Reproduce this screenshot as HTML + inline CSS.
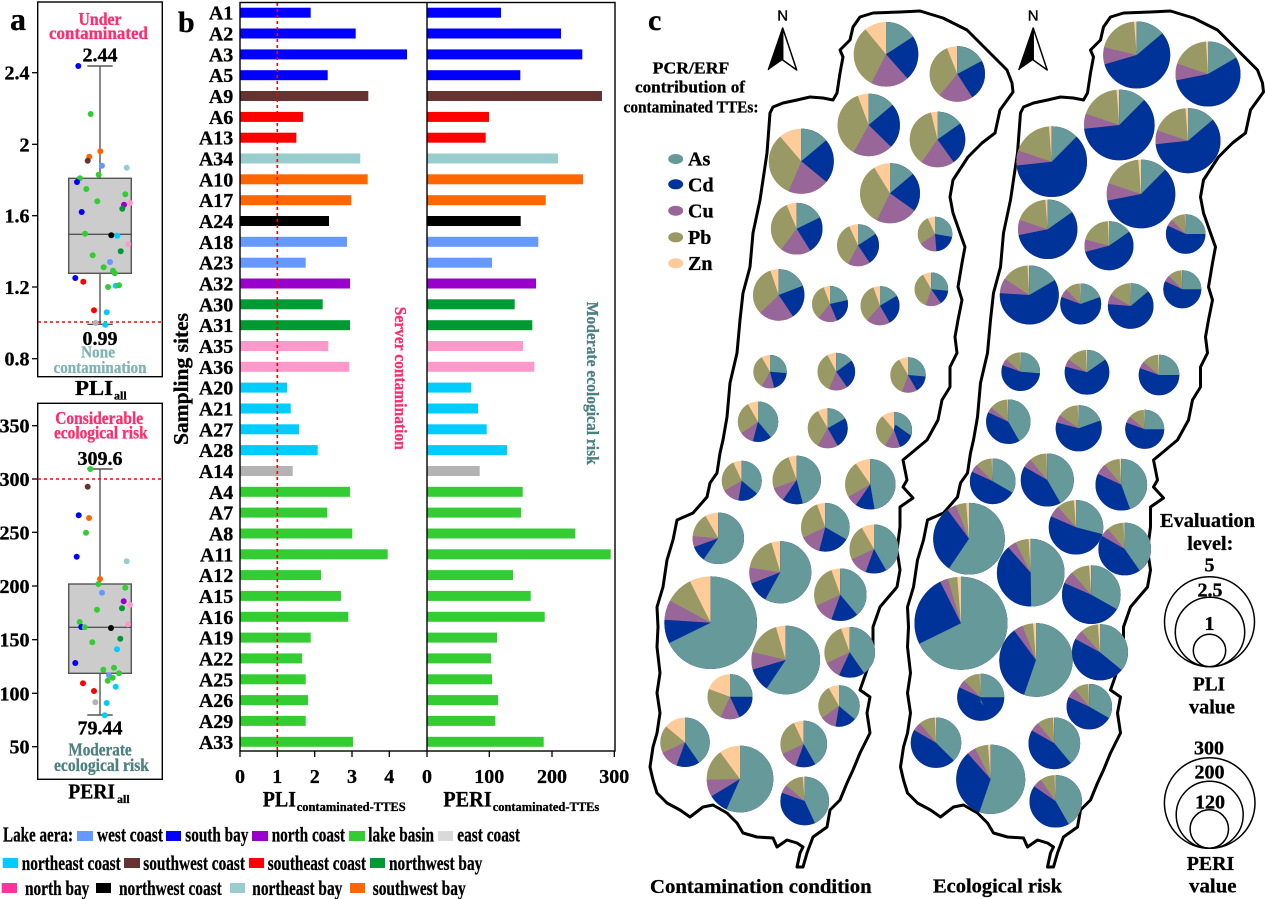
<!DOCTYPE html>
<html><head><meta charset="utf-8"><style>
body{margin:0;background:#fff}
svg{display:block}
text{font-family:"Liberation Serif","Times New Roman",serif;font-weight:bold;fill:#000;stroke:#000;stroke-width:0.3}
.sa,.sd,.su,.sb{fill:none}
.sa{stroke:#669999}.sd{stroke:#003399}.su{stroke:#996699}.sb{stroke:#999966}.z{fill:#ffcc99}
.B{fill:#0000ff}.G{fill:#33cc33}.O{fill:#ff6600}.Br{fill:#663333}.W{fill:#6699ff}.N{fill:#99cccc}.P{fill:#9900cc}.K{fill:#000}.C{fill:#00ccff}.Pk{fill:#ff99cc}.D{fill:#009933}.R{fill:#ff0000}.Y{fill:#b3b3b3}
.pk{fill:#ff2d6e;stroke:#ff2d6e}.tl{fill:#80b3b3;stroke:#80b3b3}.dt{fill:#4d8080;stroke:#4d8080}
</style></head><body>
<svg width="1265" height="899" viewBox="0 0 1265 899" xmlns="http://www.w3.org/2000/svg">
<rect width="1265" height="899" fill="#fff"/>

<!-- ============ PANEL A ============ -->
<text x="10" y="30" font-size="32">a</text>
<rect x="37.7" y="2" width="124.6" height="374.7" fill="none" stroke="#000" stroke-width="1.4"/>
<g stroke="#000" stroke-width="1.3">
<line x1="32" y1="72.7" x2="37.7" y2="72.7"/><line x1="32" y1="144.3" x2="37.7" y2="144.3"/><line x1="32" y1="215.7" x2="37.7" y2="215.7"/><line x1="32" y1="287" x2="37.7" y2="287"/><line x1="32" y1="358.7" x2="37.7" y2="358.7"/>
</g>
<g font-size="20" text-anchor="end">
<text x="29.5" y="79.7">2.4</text><text x="29.5" y="151.3">2</text><text x="29.5" y="222.7">1.6</text><text x="29.5" y="294">1.2</text><text x="29.5" y="365.7">0.8</text>
</g>
<g stroke="#555" stroke-width="1.4">
<line x1="100" y1="66" x2="100" y2="178.3"/><line x1="100" y1="273.3" x2="100" y2="324.3"/>
<line x1="87.3" y1="66" x2="112.7" y2="66"/><line x1="87.3" y1="324.3" x2="112.7" y2="324.3"/>
<rect x="68.7" y="178.3" width="62.6" height="95" fill="#cccccc"/>
<line x1="68.7" y1="234.3" x2="131.3" y2="234.3"/>
</g>
<line x1="38" y1="322" x2="162" y2="322" stroke="#ff0000" stroke-width="1.6" stroke-dasharray="3 3"/>
<g>
<circle cx="78.3" cy="66" r="3" class="B"/><circle cx="90.7" cy="114" r="3" class="G"/><circle cx="100.3" cy="151.3" r="3" class="O"/><circle cx="89.3" cy="156.7" r="3" class="O"/><circle cx="87.7" cy="160.7" r="3" class="Br"/><circle cx="102" cy="165.7" r="3" class="W"/><circle cx="126.7" cy="167.7" r="3" class="N"/><circle cx="98.7" cy="174.7" r="3" class="G"/><circle cx="80" cy="178.3" r="3" class="G"/><circle cx="77" cy="182" r="3" class="B"/><circle cx="86.3" cy="189" r="3" class="G"/><circle cx="125.3" cy="194.3" r="3" class="G"/><circle cx="97.3" cy="201.3" r="3" class="G"/><circle cx="124" cy="204.7" r="3" class="P"/><circle cx="130" cy="203" r="3" class="Pk"/><circle cx="122.3" cy="208.7" r="3" class="D"/><circle cx="81.7" cy="212" r="3" class="B"/><circle cx="85" cy="233.7" r="3" class="G"/><circle cx="111.3" cy="235.3" r="3" class="K"/><circle cx="117.3" cy="235.7" r="3" class="C"/><circle cx="128.3" cy="244.3" r="3" class="Pk"/><circle cx="120.7" cy="251.3" r="3" class="D"/><circle cx="92.7" cy="255.3" r="3" class="G"/><circle cx="110" cy="262" r="3" class="W"/><circle cx="103.7" cy="267.3" r="3" class="G"/><circle cx="113" cy="270.7" r="3" class="G"/><circle cx="114.7" cy="273.3" r="3" class="G"/><circle cx="75.3" cy="278" r="3" class="B"/><circle cx="83.3" cy="281.7" r="3" class="R"/><circle cx="108" cy="287" r="3" class="G"/><circle cx="115.7" cy="285.7" r="3" class="C"/><circle cx="119" cy="285.3" r="3" class="G"/><circle cx="94" cy="310.3" r="3" class="R"/><circle cx="106.7" cy="312.3" r="3" class="C"/><circle cx="95.7" cy="323" r="3" class="Y"/><circle cx="105.3" cy="324.7" r="3" class="C"/>
</g>
<text x="100" y="25" font-size="18" text-anchor="middle" class="pk" textLength="43" lengthAdjust="spacingAndGlyphs">Under</text>
<text x="98.5" y="39" font-size="18" text-anchor="middle" class="pk" textLength="99" lengthAdjust="spacingAndGlyphs">contaminated</text>
<text x="100" y="61.7" font-size="20" text-anchor="middle">2.44</text>
<text x="100" y="345" font-size="20" text-anchor="middle">0.99</text>
<text x="98" y="357.5" font-size="17" text-anchor="middle" class="tl" textLength="34" lengthAdjust="spacingAndGlyphs">None</text>
<text x="100" y="373" font-size="17" text-anchor="middle" class="tl" textLength="93" lengthAdjust="spacingAndGlyphs">contamination</text>
<text x="75" y="395" font-size="21" textLength="38" lengthAdjust="spacingAndGlyphs">PLI</text>
<text x="114" y="399.5" font-size="12">all</text>

<!-- bottom a -->
<rect x="37.7" y="403.3" width="124.6" height="376" fill="none" stroke="#000" stroke-width="1.4"/>
<g stroke="#000" stroke-width="1.3">
<line x1="32" y1="425.7" x2="37.7" y2="425.7"/><line x1="32" y1="479" x2="37.7" y2="479"/><line x1="32" y1="532.3" x2="37.7" y2="532.3"/><line x1="32" y1="586" x2="37.7" y2="586"/><line x1="32" y1="639.7" x2="37.7" y2="639.7"/><line x1="32" y1="693.3" x2="37.7" y2="693.3"/><line x1="32" y1="746.7" x2="37.7" y2="746.7"/>
</g>
<g font-size="20" text-anchor="end">
<text x="29.5" y="432.7">350</text><text x="29.5" y="486">300</text><text x="29.5" y="539.3">250</text><text x="29.5" y="593">200</text><text x="29.5" y="646.7">150</text><text x="29.5" y="700.3">100</text><text x="29.5" y="753.7">50</text>
</g>
<g stroke="#555" stroke-width="1.4">
<line x1="100" y1="469" x2="100" y2="584"/><line x1="100" y1="673.3" x2="100" y2="715"/>
<line x1="87.3" y1="469" x2="112.7" y2="469"/><line x1="87.3" y1="715" x2="112.7" y2="715"/>
<rect x="68.7" y="584" width="62.6" height="89.3" fill="#cccccc"/>
<line x1="68.7" y1="627.3" x2="131.3" y2="627.3"/>
</g>
<line x1="38" y1="479" x2="162" y2="479" stroke="#ff0000" stroke-width="1.6" stroke-dasharray="3 3"/>
<g>
<circle cx="90.3" cy="469" r="3" class="G"/><circle cx="87.7" cy="486.7" r="3" class="Br"/><circle cx="78.7" cy="515.3" r="3" class="B"/><circle cx="89" cy="518" r="3" class="O"/><circle cx="86" cy="532.7" r="3" class="G"/><circle cx="76.7" cy="556.7" r="3" class="B"/><circle cx="126.7" cy="561.3" r="3" class="N"/><circle cx="100" cy="579" r="3" class="O"/><circle cx="98.3" cy="584" r="3" class="G"/><circle cx="125.3" cy="587.7" r="3" class="G"/><circle cx="102" cy="592.7" r="3" class="W"/><circle cx="123.7" cy="601.3" r="3" class="P"/><circle cx="130" cy="604.7" r="3" class="Pk"/><circle cx="122" cy="608.3" r="3" class="D"/><circle cx="97" cy="609.7" r="3" class="G"/><circle cx="79.7" cy="622" r="3" class="G"/><circle cx="81.3" cy="627" r="3" class="B"/><circle cx="84.7" cy="627.3" r="3" class="G"/><circle cx="111" cy="628" r="3" class="K"/><circle cx="128" cy="624.3" r="3" class="Pk"/><circle cx="120.3" cy="638.7" r="3" class="D"/><circle cx="117" cy="649.3" r="3" class="C"/><circle cx="92.3" cy="642.3" r="3" class="G"/><circle cx="75.3" cy="663" r="3" class="B"/><circle cx="103.3" cy="669.7" r="3" class="G"/><circle cx="114" cy="667.7" r="3" class="G"/><circle cx="119" cy="673.3" r="3" class="G"/><circle cx="109" cy="675.3" r="3" class="W"/><circle cx="112.7" cy="677.7" r="3" class="G"/><circle cx="107.7" cy="680.7" r="3" class="G"/><circle cx="83" cy="683.3" r="3" class="R"/><circle cx="115.7" cy="686.7" r="3" class="C"/><circle cx="94" cy="691" r="3" class="R"/><circle cx="95.3" cy="702.3" r="3" class="Y"/><circle cx="106.7" cy="703" r="3" class="C"/><circle cx="104.7" cy="715.3" r="3" class="C"/>
</g>
<text x="99.2" y="424" font-size="18" text-anchor="middle" class="pk" textLength="88" lengthAdjust="spacingAndGlyphs">Considerable</text>
<text x="100.8" y="438.5" font-size="18" text-anchor="middle" class="pk" textLength="93.7" lengthAdjust="spacingAndGlyphs">ecological risk</text>
<text x="100" y="465" font-size="20" text-anchor="middle">309.6</text>
<text x="100" y="734.3" font-size="20" text-anchor="middle">79.44</text>
<text x="100" y="755.6" font-size="18" text-anchor="middle" class="dt" textLength="63.3" lengthAdjust="spacingAndGlyphs">Moderate</text>
<text x="101.5" y="771" font-size="18" text-anchor="middle" class="dt" textLength="95" lengthAdjust="spacingAndGlyphs">ecological risk</text>
<text x="68.3" y="798.3" font-size="21" textLength="46.7" lengthAdjust="spacingAndGlyphs">PERI</text>
<text x="117" y="803" font-size="12">all</text>

<!-- ============ PANEL B ============ -->
<text x="178" y="32" font-size="30">b</text>
<g font-size="20" text-anchor="end">
<text x="233.3" y="19.7">A1</text><text x="233.3" y="40.5">A2</text><text x="233.3" y="61.4">A3</text><text x="233.3" y="82.2">A5</text><text x="233.3" y="103">A9</text><text x="233.3" y="123.9">A6</text><text x="233.3" y="144.7">A13</text><text x="233.3" y="165.5">A34</text><text x="233.3" y="186.3">A10</text><text x="233.3" y="207.2">A17</text><text x="233.3" y="228">A24</text><text x="233.3" y="248.8">A18</text><text x="233.3" y="269.7">A23</text><text x="233.3" y="290.5">A32</text><text x="233.3" y="311.3">A30</text><text x="233.3" y="332.2">A31</text><text x="233.3" y="353">A35</text><text x="233.3" y="373.8">A36</text><text x="233.3" y="394.6">A20</text><text x="233.3" y="415.5">A21</text><text x="233.3" y="436.3">A27</text><text x="233.3" y="457.1">A28</text><text x="233.3" y="478">A14</text><text x="233.3" y="498.8">A4</text><text x="233.3" y="519.6">A7</text><text x="233.3" y="540.5">A8</text><text x="233.3" y="561.3">A11</text><text x="233.3" y="582.1">A12</text><text x="233.3" y="602.9">A15</text><text x="233.3" y="623.8">A16</text><text x="233.3" y="644.6">A19</text><text x="233.3" y="665.4">A22</text><text x="233.3" y="686.3">A25</text><text x="233.3" y="707.1">A26</text><text x="233.3" y="727.9">A29</text><text x="233.3" y="748.8">A33</text>
</g>
<!-- PLI bars -->
<g>
<rect x="240" y="7.7" width="70.7" height="10" class="B"/>
<rect x="240" y="28.5" width="115.7" height="10" class="B"/>
<rect x="240" y="49.4" width="167" height="10" class="B"/>
<rect x="240" y="70.2" width="87.7" height="10" class="B"/>
<rect x="240" y="91" width="128.3" height="10" class="Br"/>
<rect x="240" y="111.9" width="63" height="10" class="R"/>
<rect x="240" y="132.7" width="56.3" height="10" class="R"/>
<rect x="240" y="153.5" width="120.3" height="10" class="N"/>
<rect x="240" y="174.3" width="127.7" height="10" class="O"/>
<rect x="240" y="195.2" width="111.3" height="10" class="O"/>
<rect x="240" y="216" width="89" height="10" class="K"/>
<rect x="240" y="236.8" width="107" height="10" class="W"/>
<rect x="240" y="257.7" width="65.7" height="10" class="W"/>
<rect x="240" y="278.5" width="110" height="10" class="P"/>
<rect x="240" y="299.3" width="82.7" height="10" class="D"/>
<rect x="240" y="320.2" width="110" height="10" class="D"/>
<rect x="240" y="341" width="88.3" height="10" class="Pk"/>
<rect x="240" y="361.8" width="109.3" height="10" class="Pk"/>
<rect x="240" y="382.6" width="47" height="10" class="C"/>
<rect x="240" y="403.5" width="50.7" height="10" class="C"/>
<rect x="240" y="424.3" width="59" height="10" class="C"/>
<rect x="240" y="445.1" width="77.7" height="10" class="C"/>
<rect x="240" y="466" width="52.7" height="10" class="Y"/>
<rect x="240" y="486.8" width="110" height="10" class="G"/>
<rect x="240" y="507.6" width="87.3" height="10" class="G"/>
<rect x="240" y="528.5" width="112.3" height="10" class="G"/>
<rect x="240" y="549.3" width="147.7" height="10" class="G"/>
<rect x="240" y="570.1" width="81" height="10" class="G"/>
<rect x="240" y="590.9" width="101" height="10" class="G"/>
<rect x="240" y="611.8" width="108.3" height="10" class="G"/>
<rect x="240" y="632.6" width="70.7" height="10" class="G"/>
<rect x="240" y="653.4" width="62" height="10" class="G"/>
<rect x="240" y="674.3" width="65.7" height="10" class="G"/>
<rect x="240" y="695.1" width="68" height="10" class="G"/>
<rect x="240" y="715.9" width="65.7" height="10" class="G"/>
<rect x="240" y="736.8" width="113" height="10" class="G"/>
</g>
<!-- PERI bars -->
<g>
<rect x="427" y="7.7" width="74" height="10" class="B"/>
<rect x="427" y="28.5" width="134" height="10" class="B"/>
<rect x="427" y="49.4" width="155.3" height="10" class="B"/>
<rect x="427" y="70.2" width="93.3" height="10" class="B"/>
<rect x="427" y="91" width="175" height="10" class="Br"/>
<rect x="427" y="111.9" width="62" height="10" class="R"/>
<rect x="427" y="132.7" width="58.7" height="10" class="R"/>
<rect x="427" y="153.5" width="131" height="10" class="N"/>
<rect x="427" y="174.3" width="156" height="10" class="O"/>
<rect x="427" y="195.2" width="118.7" height="10" class="O"/>
<rect x="427" y="216" width="93.7" height="10" class="K"/>
<rect x="427" y="236.8" width="111.3" height="10" class="W"/>
<rect x="427" y="257.7" width="65" height="10" class="W"/>
<rect x="427" y="278.5" width="109" height="10" class="P"/>
<rect x="427" y="299.3" width="87.7" height="10" class="D"/>
<rect x="427" y="320.2" width="105.3" height="10" class="D"/>
<rect x="427" y="341" width="96" height="10" class="Pk"/>
<rect x="427" y="361.8" width="107.3" height="10" class="Pk"/>
<rect x="427" y="382.6" width="44.3" height="10" class="C"/>
<rect x="427" y="403.5" width="51" height="10" class="C"/>
<rect x="427" y="424.3" width="59.7" height="10" class="C"/>
<rect x="427" y="445.1" width="80" height="10" class="C"/>
<rect x="427" y="466" width="52.7" height="10" class="Y"/>
<rect x="427" y="486.8" width="95.7" height="10" class="G"/>
<rect x="427" y="507.6" width="94" height="10" class="G"/>
<rect x="427" y="528.5" width="148.3" height="10" class="G"/>
<rect x="427" y="549.3" width="183.7" height="10" class="G"/>
<rect x="427" y="570.1" width="86" height="10" class="G"/>
<rect x="427" y="590.9" width="103.7" height="10" class="G"/>
<rect x="427" y="611.8" width="117.7" height="10" class="G"/>
<rect x="427" y="632.6" width="70" height="10" class="G"/>
<rect x="427" y="653.4" width="64" height="10" class="G"/>
<rect x="427" y="674.3" width="65" height="10" class="G"/>
<rect x="427" y="695.1" width="71" height="10" class="G"/>
<rect x="427" y="715.9" width="68.3" height="10" class="G"/>
<rect x="427" y="736.8" width="116.7" height="10" class="G"/>
</g>
<line x1="277.3" y1="3" x2="277.3" y2="751" stroke="#ff0000" stroke-width="1.6" stroke-dasharray="3 3"/>
<rect x="240" y="2.5" width="375" height="748.5" fill="none" stroke="#000" stroke-width="1.4"/>
<line x1="427" y1="2.5" x2="427" y2="751" stroke="#000" stroke-width="1.4"/>
<g stroke="#000" stroke-width="1.3">
<line x1="240" y1="751" x2="240" y2="757"/><line x1="277.3" y1="751" x2="277.3" y2="757"/><line x1="314.7" y1="751" x2="314.7" y2="757"/><line x1="352" y1="751" x2="352" y2="757"/><line x1="389.3" y1="751" x2="389.3" y2="757"/><line x1="427" y1="751" x2="427" y2="757"/><line x1="489.3" y1="751" x2="489.3" y2="757"/><line x1="552" y1="751" x2="552" y2="757"/><line x1="614.3" y1="751" x2="614.3" y2="757"/>
</g>
<g font-size="20" text-anchor="middle">
<text x="240" y="783">0</text><text x="277.3" y="783">1</text><text x="314.7" y="783">2</text><text x="352" y="783">3</text><text x="389.3" y="783">4</text>
<text x="427" y="783">0</text><text x="489.3" y="783">100</text><text x="552" y="783">200</text><text x="614.3" y="783">300</text>
</g>
<text x="262.7" y="806.7" font-size="22" textLength="33.3" lengthAdjust="spacingAndGlyphs">PLI</text>
<text x="296.7" y="811" font-size="13" textLength="109" lengthAdjust="spacingAndGlyphs">contaminated-TTES</text>
<text x="443.3" y="806.7" font-size="22" textLength="48.4" lengthAdjust="spacingAndGlyphs">PERI</text>
<text x="492.7" y="811" font-size="13" textLength="106.6" lengthAdjust="spacingAndGlyphs">contaminated-TTEs</text>
<text transform="translate(188,379) rotate(-90)" font-size="21" text-anchor="middle" textLength="132" lengthAdjust="spacingAndGlyphs">Sampling sites</text>
<text transform="translate(395,378.3) rotate(90)" font-size="17" text-anchor="middle" class="pk" textLength="143" lengthAdjust="spacingAndGlyphs">Server contamination</text>
<text transform="translate(587,383.3) rotate(90)" font-size="17" text-anchor="middle" class="dt" textLength="163" lengthAdjust="spacingAndGlyphs">Moderate ecological risk</text>

<!-- legend -->
<text x="3" y="841.5" font-size="21" textLength="70" lengthAdjust="spacingAndGlyphs">Lake aera:</text>
<rect x="77" y="831" width="16" height="10" class="W"/><text x="97" y="841.5" font-size="21" textLength="66" lengthAdjust="spacingAndGlyphs">west coast</text>
<rect x="166" y="831" width="15" height="10" class="B"/><text x="185.3" y="841.5" font-size="21" textLength="63" lengthAdjust="spacingAndGlyphs">south bay</text>
<rect x="252" y="831" width="16" height="10" class="P"/><text x="271.7" y="841.5" font-size="21" textLength="73.3" lengthAdjust="spacingAndGlyphs">north coast</text>
<rect x="349" y="831" width="16" height="10" class="G"/><text x="368.3" y="841.5" font-size="21" textLength="65.7" lengthAdjust="spacingAndGlyphs">lake basin</text>
<rect x="438" y="831" width="15" height="10" fill="#d9d9d9"/><text x="457.3" y="841.5" font-size="21" textLength="62.7" lengthAdjust="spacingAndGlyphs">east coast</text>

<rect x="2.7" y="858" width="15.3" height="10" class="C"/><text x="21.7" y="870" font-size="21" textLength="99" lengthAdjust="spacingAndGlyphs">northeast coast</text>
<rect x="124" y="858" width="16" height="10" class="Br"/><text x="143.3" y="870" font-size="21" textLength="101.7" lengthAdjust="spacingAndGlyphs">southwest coast</text>
<rect x="249" y="858" width="15" height="10" class="R"/><text x="267.7" y="870" font-size="21" textLength="98.3" lengthAdjust="spacingAndGlyphs">southeast coast</text>
<rect x="370" y="858" width="15" height="10" class="D"/><text x="389" y="870" font-size="21" textLength="93.3" lengthAdjust="spacingAndGlyphs">northwest bay</text>

<rect x="1.7" y="883" width="15.3" height="10" fill="#ff3399"/><text x="25" y="895" font-size="21" textLength="64.3" lengthAdjust="spacingAndGlyphs">north bay</text>
<rect x="96" y="883" width="15" height="10" class="K"/><text x="119" y="895" font-size="21" textLength="102.7" lengthAdjust="spacingAndGlyphs">northwest coast</text>
<rect x="230" y="883" width="15" height="10" class="N"/><text x="252.3" y="895" font-size="21" textLength="90" lengthAdjust="spacingAndGlyphs">northeast bay</text>
<rect x="350" y="883" width="15" height="10" class="O"/><text x="372.7" y="895" font-size="21" textLength="93" lengthAdjust="spacingAndGlyphs">southwest bay</text>

<!-- ============ PANEL C ============ -->
<text x="648" y="30" font-size="30">c</text>
<text x="691" y="73.5" font-size="17" text-anchor="middle" textLength="76.6" lengthAdjust="spacingAndGlyphs">PCR/ERF</text>
<text x="690" y="92.7" font-size="17" text-anchor="middle" textLength="110" lengthAdjust="spacingAndGlyphs">contribution of</text>
<text x="691" y="112.5" font-size="17" text-anchor="middle" textLength="135" lengthAdjust="spacingAndGlyphs">contaminated TTEs:</text>
<ellipse cx="675.7" cy="159" rx="7.5" ry="5" fill="#669999"/>
<ellipse cx="675.7" cy="184.3" rx="7.5" ry="5" fill="#003399"/>
<ellipse cx="675.7" cy="210.7" rx="7.5" ry="5" fill="#996699"/>
<ellipse cx="675.7" cy="237.3" rx="7.5" ry="5" fill="#999966"/>
<ellipse cx="675.7" cy="263.3" rx="7.5" ry="5" fill="#ffcc99"/>
<g font-size="20">
<text x="688" y="165.7">As</text><text x="688" y="191.7">Cd</text><text x="688" y="217.3">Cu</text><text x="688" y="244">Pb</text><text x="688" y="270">Zn</text>
</g>

<!-- north arrows -->
<g id="na">
<text x="782.7" y="20.5" font-size="15" text-anchor="middle" style="font-family:'Liberation Sans',sans-serif;font-weight:normal;stroke-width:0.4">N</text>
<polygon points="782.7,28 768.3,70 782.7,60" fill="#000"/>
<polygon points="782.7,28 796.7,70 782.7,60" fill="#fff" stroke="#000" stroke-width="1.5" stroke-linejoin="round"/>
<line x1="782.7" y1="28" x2="768.3" y2="70" stroke="#000" stroke-width="1.5"/>
</g>
<use href="#na" transform="translate(250.5,0)"/>

<!-- map outlines -->
<polygon id="mp" fill="none" stroke="#000" stroke-width="3" stroke-linejoin="round" points="900,12 920,11 943,18 967,30 987,50 1007,70 1012,83 1013,92 1000,110 995,133 982,143 968,157 953,180 950,197 953,213 960,233 965,247 962,263 958,287 962,300 958,320 955,337 957,353 950,367 950,387 942,400 938,420 927,440 903,460 907,480 903,487 913,498 900,507 900,527 897,550 900,570 897,587 880,607 873,627 873,653 867,670 860,690 870,697 867,713 870,733 860,753 853,770 847,783 840,800 830,810 827,827 813,837 807,853 803,867 797,867 800,853 803,847 797,843 787,840 777,847 773,838 757,837 743,833 737,823 727,813 713,805 703,807 690,817 680,810 667,803 657,793 653,780 650,767 653,747 657,733 660,713 657,693 660,673 657,647 658,627 657,607 663,587 667,560 673,540 677,520 693,513 707,497 710,483 717,473 720,453 723,440 727,417 730,383 737,353 740,320 743,293 750,267 753,233 760,200 767,153 770,113 773,107 783,103 797,100 810,97 823,98 833,100 837,93 840,73 843,57 840,50 850,40 853,27 860,17 873,13"/>
<use href="#mp" transform="translate(250.5,0)"/>

<!-- LEFT pies -->
<g transform="translate(886,54.3) rotate(-90)"><circle r="32.3" class="z"/><circle r="16.15" stroke-width="32.3" class="sb" stroke-dasharray="322 360" pathLength="360"/><circle r="16.15" stroke-width="32.3" class="su" stroke-dasharray="208 360" pathLength="360"/><circle r="16.15" stroke-width="32.3" class="sd" stroke-dasharray="139 360" pathLength="360"/><circle r="16.15" stroke-width="32.3" class="sa" stroke-dasharray="57 360" pathLength="360"/></g>
<g transform="translate(957.3,74) rotate(-90)"><circle r="27.7" class="z"/><circle r="13.85" stroke-width="27.7" class="sb" stroke-dasharray="340 360" pathLength="360"/><circle r="13.85" stroke-width="27.7" class="su" stroke-dasharray="221 360" pathLength="360"/><circle r="13.85" stroke-width="27.7" class="sd" stroke-dasharray="148 360" pathLength="360"/><circle r="13.85" stroke-width="27.7" class="sa" stroke-dasharray="62 360" pathLength="360"/></g>
<g transform="translate(868.7,125) rotate(-90)"><circle r="31.2" class="z"/><circle r="15.6" stroke-width="31.2" class="sb" stroke-dasharray="341 360" pathLength="360"/><circle r="15.6" stroke-width="31.2" class="su" stroke-dasharray="210 360" pathLength="360"/><circle r="15.6" stroke-width="31.2" class="sd" stroke-dasharray="135 360" pathLength="360"/><circle r="15.6" stroke-width="31.2" class="sa" stroke-dasharray="50 360" pathLength="360"/></g>
<g transform="translate(937.5,139.5) rotate(-90)"><circle r="27.8" class="z"/><circle r="13.9" stroke-width="27.8" class="sb" stroke-dasharray="348 360" pathLength="360"/><circle r="13.9" stroke-width="27.8" class="su" stroke-dasharray="216 360" pathLength="360"/><circle r="13.9" stroke-width="27.8" class="sd" stroke-dasharray="145 360" pathLength="360"/><circle r="13.9" stroke-width="27.8" class="sa" stroke-dasharray="55 360" pathLength="360"/></g>
<g transform="translate(801.3,161.3) rotate(-90)"><circle r="32.5" class="z"/><circle r="16.25" stroke-width="32.5" class="sb" stroke-dasharray="321 360" pathLength="360"/><circle r="16.25" stroke-width="32.5" class="su" stroke-dasharray="204 360" pathLength="360"/><circle r="16.25" stroke-width="32.5" class="sd" stroke-dasharray="130 360" pathLength="360"/><circle r="16.25" stroke-width="32.5" class="sa" stroke-dasharray="50 360" pathLength="360"/></g>
<g transform="translate(890,193.3) rotate(-90)"><circle r="30" class="z"/><circle r="15" stroke-width="30" class="sb" stroke-dasharray="330 360" pathLength="360"/><circle r="15" stroke-width="30" class="su" stroke-dasharray="207 360" pathLength="360"/><circle r="15" stroke-width="30" class="sd" stroke-dasharray="126 360" pathLength="360"/><circle r="15" stroke-width="30" class="sa" stroke-dasharray="50 360" pathLength="360"/></g>
<g transform="translate(796.7,228.7) rotate(-90)"><circle r="25.8" class="z"/><circle r="12.9" stroke-width="25.8" class="sb" stroke-dasharray="337 360" pathLength="360"/><circle r="12.9" stroke-width="25.8" class="su" stroke-dasharray="217 360" pathLength="360"/><circle r="12.9" stroke-width="25.8" class="sd" stroke-dasharray="148 360" pathLength="360"/><circle r="12.9" stroke-width="25.8" class="sa" stroke-dasharray="64 360" pathLength="360"/></g>
<g transform="translate(858,245.3) rotate(-90)"><circle r="21" class="z"/><circle r="10.5" stroke-width="21" class="sb" stroke-dasharray="335 360" pathLength="360"/><circle r="10.5" stroke-width="21" class="su" stroke-dasharray="208 360" pathLength="360"/><circle r="10.5" stroke-width="21" class="sd" stroke-dasharray="146 360" pathLength="360"/><circle r="10.5" stroke-width="21" class="sa" stroke-dasharray="57 360" pathLength="360"/></g>
<g transform="translate(935,234) rotate(-90)"><circle r="17.3" class="z"/><circle r="8.65" stroke-width="17.3" class="sb" stroke-dasharray="335 360" pathLength="360"/><circle r="8.65" stroke-width="17.3" class="su" stroke-dasharray="235 360" pathLength="360"/><circle r="8.65" stroke-width="17.3" class="sd" stroke-dasharray="175 360" pathLength="360"/><circle r="8.65" stroke-width="17.3" class="sa" stroke-dasharray="100 360" pathLength="360"/></g>
<g transform="translate(778.7,295) rotate(-90)"><circle r="25.7" class="z"/><circle r="12.85" stroke-width="25.7" class="sb" stroke-dasharray="341 360" pathLength="360"/><circle r="12.85" stroke-width="25.7" class="su" stroke-dasharray="226 360" pathLength="360"/><circle r="12.85" stroke-width="25.7" class="sd" stroke-dasharray="146 360" pathLength="360"/><circle r="12.85" stroke-width="25.7" class="sa" stroke-dasharray="69 360" pathLength="360"/></g>
<g transform="translate(830,304) rotate(-90)"><circle r="18" class="z"/><circle r="9" stroke-width="18" class="sb" stroke-dasharray="339 360" pathLength="360"/><circle r="9" stroke-width="18" class="su" stroke-dasharray="220 360" pathLength="360"/><circle r="9" stroke-width="18" class="sd" stroke-dasharray="157 360" pathLength="360"/><circle r="9" stroke-width="18" class="sa" stroke-dasharray="77 360" pathLength="360"/></g>
<g transform="translate(880,305.7) rotate(-90)"><circle r="19.5" class="z"/><circle r="9.75" stroke-width="19.5" class="sb" stroke-dasharray="340 360" pathLength="360"/><circle r="9.75" stroke-width="19.5" class="su" stroke-dasharray="222 360" pathLength="360"/><circle r="9.75" stroke-width="19.5" class="sd" stroke-dasharray="150 360" pathLength="360"/><circle r="9.75" stroke-width="19.5" class="sa" stroke-dasharray="59 360" pathLength="360"/></g>
<g transform="translate(931.3,289.3) rotate(-90)"><circle r="16.8" class="z"/><circle r="8.4" stroke-width="16.8" class="sb" stroke-dasharray="330 360" pathLength="360"/><circle r="8.4" stroke-width="16.8" class="su" stroke-dasharray="200 360" pathLength="360"/><circle r="8.4" stroke-width="16.8" class="sd" stroke-dasharray="145 360" pathLength="360"/><circle r="8.4" stroke-width="16.8" class="sa" stroke-dasharray="95 360" pathLength="360"/></g>
<g transform="translate(770,371.7) rotate(-90)"><circle r="16.7" class="z"/><circle r="8.35" stroke-width="16.7" class="sb" stroke-dasharray="330 360" pathLength="360"/><circle r="8.35" stroke-width="16.7" class="su" stroke-dasharray="210 360" pathLength="360"/><circle r="8.35" stroke-width="16.7" class="sd" stroke-dasharray="165 360" pathLength="360"/><circle r="8.35" stroke-width="16.7" class="sa" stroke-dasharray="95 360" pathLength="360"/></g>
<g transform="translate(836.3,371.7) rotate(-90)"><circle r="18.8" class="z"/><circle r="9.4" stroke-width="18.8" class="sb" stroke-dasharray="332 360" pathLength="360"/><circle r="9.4" stroke-width="18.8" class="su" stroke-dasharray="203 360" pathLength="360"/><circle r="9.4" stroke-width="18.8" class="sd" stroke-dasharray="145 360" pathLength="360"/><circle r="9.4" stroke-width="18.8" class="sa" stroke-dasharray="54 360" pathLength="360"/></g>
<g transform="translate(908,375) rotate(-90)"><circle r="17.7" class="z"/><circle r="8.85" stroke-width="17.7" class="sb" stroke-dasharray="330 360" pathLength="360"/><circle r="8.85" stroke-width="17.7" class="su" stroke-dasharray="200 360" pathLength="360"/><circle r="8.85" stroke-width="17.7" class="sd" stroke-dasharray="150 360" pathLength="360"/><circle r="8.85" stroke-width="17.7" class="sa" stroke-dasharray="95 360" pathLength="360"/></g>
<g transform="translate(758,421.7) rotate(-90)"><circle r="20.2" class="z"/><circle r="10.1" stroke-width="20.2" class="sb" stroke-dasharray="330 360" pathLength="360"/><circle r="10.1" stroke-width="20.2" class="su" stroke-dasharray="235 360" pathLength="360"/><circle r="10.1" stroke-width="20.2" class="sd" stroke-dasharray="195 360" pathLength="360"/><circle r="10.1" stroke-width="20.2" class="sa" stroke-dasharray="140 360" pathLength="360"/></g>
<g transform="translate(827.7,428.3) rotate(-90)"><circle r="20" class="z"/><circle r="10" stroke-width="20" class="sb" stroke-dasharray="330 360" pathLength="360"/><circle r="10" stroke-width="20" class="su" stroke-dasharray="210 360" pathLength="360"/><circle r="10" stroke-width="20" class="sd" stroke-dasharray="150 360" pathLength="360"/><circle r="10" stroke-width="20" class="sa" stroke-dasharray="60 360" pathLength="360"/></g>
<g transform="translate(894,430) rotate(-90)"><circle r="18" class="z"/><circle r="9" stroke-width="18" class="sb" stroke-dasharray="320 360" pathLength="360"/><circle r="9" stroke-width="18" class="su" stroke-dasharray="210 360" pathLength="360"/><circle r="9" stroke-width="18" class="sd" stroke-dasharray="160 360" pathLength="360"/><circle r="9" stroke-width="18" class="sa" stroke-dasharray="90 360" pathLength="360"/></g>
<g transform="translate(741.7,480.7) rotate(-90)"><circle r="20" class="z"/><circle r="10" stroke-width="20" class="sb" stroke-dasharray="335 360" pathLength="360"/><circle r="10" stroke-width="20" class="su" stroke-dasharray="240 360" pathLength="360"/><circle r="10" stroke-width="20" class="sd" stroke-dasharray="190 360" pathLength="360"/><circle r="10" stroke-width="20" class="sa" stroke-dasharray="130 360" pathLength="360"/></g>
<g transform="translate(796.7,480) rotate(-90)"><circle r="24.2" class="z"/><circle r="12.1" stroke-width="24.2" class="sb" stroke-dasharray="340 360" pathLength="360"/><circle r="12.1" stroke-width="24.2" class="su" stroke-dasharray="250 360" pathLength="360"/><circle r="12.1" stroke-width="24.2" class="sd" stroke-dasharray="215 360" pathLength="360"/><circle r="12.1" stroke-width="24.2" class="sa" stroke-dasharray="165 360" pathLength="360"/></g>
<g transform="translate(870.3,484.3) rotate(-90)"><circle r="25.2" class="z"/><circle r="12.6" stroke-width="25.2" class="sb" stroke-dasharray="325 360" pathLength="360"/><circle r="12.6" stroke-width="25.2" class="su" stroke-dasharray="240 360" pathLength="360"/><circle r="12.6" stroke-width="25.2" class="sd" stroke-dasharray="215 360" pathLength="360"/><circle r="12.6" stroke-width="25.2" class="sa" stroke-dasharray="170 360" pathLength="360"/></g>
<g transform="translate(718.3,538.3) rotate(-90)"><circle r="25.7" class="z"/><circle r="12.85" stroke-width="25.7" class="sb" stroke-dasharray="330 360" pathLength="360"/><circle r="12.85" stroke-width="25.7" class="su" stroke-dasharray="275 360" pathLength="360"/><circle r="12.85" stroke-width="25.7" class="sd" stroke-dasharray="250 360" pathLength="360"/><circle r="12.85" stroke-width="25.7" class="sa" stroke-dasharray="215 360" pathLength="360"/></g>
<g transform="translate(825.3,527.3) rotate(-90)"><circle r="24.3" class="z"/><circle r="12.15" stroke-width="24.3" class="sb" stroke-dasharray="340 360" pathLength="360"/><circle r="12.15" stroke-width="24.3" class="su" stroke-dasharray="245 360" pathLength="360"/><circle r="12.15" stroke-width="24.3" class="sd" stroke-dasharray="195 360" pathLength="360"/><circle r="12.15" stroke-width="24.3" class="sa" stroke-dasharray="120 360" pathLength="360"/></g>
<g transform="translate(874,549) rotate(-90)"><circle r="24.5" class="z"/><circle r="12.25" stroke-width="24.5" class="sb" stroke-dasharray="330 360" pathLength="360"/><circle r="12.25" stroke-width="24.5" class="su" stroke-dasharray="245 360" pathLength="360"/><circle r="12.25" stroke-width="24.5" class="sd" stroke-dasharray="200 360" pathLength="360"/><circle r="12.25" stroke-width="24.5" class="sa" stroke-dasharray="150 360" pathLength="360"/></g>
<g transform="translate(780.3,572.3) rotate(-90)"><circle r="31" class="z"/><circle r="15.5" stroke-width="31" class="sb" stroke-dasharray="345 360" pathLength="360"/><circle r="15.5" stroke-width="31" class="su" stroke-dasharray="280 360" pathLength="360"/><circle r="15.5" stroke-width="31" class="sd" stroke-dasharray="250 360" pathLength="360"/><circle r="15.5" stroke-width="31" class="sa" stroke-dasharray="210 360" pathLength="360"/></g>
<g transform="translate(840.3,594.7) rotate(-90)"><circle r="26.2" class="z"/><circle r="13.1" stroke-width="26.2" class="sb" stroke-dasharray="340 360" pathLength="360"/><circle r="13.1" stroke-width="26.2" class="su" stroke-dasharray="245 360" pathLength="360"/><circle r="13.1" stroke-width="26.2" class="sd" stroke-dasharray="200 360" pathLength="360"/><circle r="13.1" stroke-width="26.2" class="sa" stroke-dasharray="140 360" pathLength="360"/></g>
<g transform="translate(710.7,622.7) rotate(-90)"><circle r="46.3" class="z"/><circle r="23.15" stroke-width="46.3" class="sb" stroke-dasharray="335 360" pathLength="360"/><circle r="23.15" stroke-width="46.3" class="su" stroke-dasharray="300 360" pathLength="360"/><circle r="23.15" stroke-width="46.3" class="sd" stroke-dasharray="275 360" pathLength="360"/><circle r="23.15" stroke-width="46.3" class="sa" stroke-dasharray="245 360" pathLength="360"/></g>
<g transform="translate(785.7,660) rotate(-90)"><circle r="34.3" class="z"/><circle r="17.15" stroke-width="34.3" class="sb" stroke-dasharray="345 360" pathLength="360"/><circle r="17.15" stroke-width="34.3" class="su" stroke-dasharray="285 360" pathLength="360"/><circle r="17.15" stroke-width="34.3" class="sd" stroke-dasharray="255 360" pathLength="360"/><circle r="17.15" stroke-width="34.3" class="sa" stroke-dasharray="215 360" pathLength="360"/></g>
<g transform="translate(849.7,652.3) rotate(-90)"><circle r="25.3" class="z"/><circle r="12.65" stroke-width="25.3" class="sb" stroke-dasharray="340 360" pathLength="360"/><circle r="12.65" stroke-width="25.3" class="su" stroke-dasharray="245 360" pathLength="360"/><circle r="12.65" stroke-width="25.3" class="sd" stroke-dasharray="205 360" pathLength="360"/><circle r="12.65" stroke-width="25.3" class="sa" stroke-dasharray="145 360" pathLength="360"/></g>
<g transform="translate(730,696.7) rotate(-90)"><circle r="22.5" class="z"/><circle r="11.25" stroke-width="22.5" class="sb" stroke-dasharray="290 360" pathLength="360"/><circle r="11.25" stroke-width="22.5" class="su" stroke-dasharray="205 360" pathLength="360"/><circle r="11.25" stroke-width="22.5" class="sd" stroke-dasharray="155 360" pathLength="360"/><circle r="11.25" stroke-width="22.5" class="sa" stroke-dasharray="90 360" pathLength="360"/></g>
<g transform="translate(839,706) rotate(-90)"><circle r="20.7" class="z"/><circle r="10.35" stroke-width="20.7" class="sb" stroke-dasharray="330 360" pathLength="360"/><circle r="10.35" stroke-width="20.7" class="su" stroke-dasharray="235 360" pathLength="360"/><circle r="10.35" stroke-width="20.7" class="sd" stroke-dasharray="190 360" pathLength="360"/><circle r="10.35" stroke-width="20.7" class="sa" stroke-dasharray="130 360" pathLength="360"/></g>
<g transform="translate(685,742.3) rotate(-90)"><circle r="24.7" class="z"/><circle r="12.35" stroke-width="24.7" class="sb" stroke-dasharray="310 360" pathLength="360"/><circle r="12.35" stroke-width="24.7" class="su" stroke-dasharray="245 360" pathLength="360"/><circle r="12.35" stroke-width="24.7" class="sd" stroke-dasharray="200 360" pathLength="360"/><circle r="12.35" stroke-width="24.7" class="sa" stroke-dasharray="145 360" pathLength="360"/></g>
<g transform="translate(803.7,744) rotate(-90)"><circle r="23.3" class="z"/><circle r="11.65" stroke-width="23.3" class="sb" stroke-dasharray="335 360" pathLength="360"/><circle r="11.65" stroke-width="23.3" class="su" stroke-dasharray="245 360" pathLength="360"/><circle r="11.65" stroke-width="23.3" class="sd" stroke-dasharray="200 360" pathLength="360"/><circle r="11.65" stroke-width="23.3" class="sa" stroke-dasharray="150 360" pathLength="360"/></g>
<g transform="translate(740,779) rotate(-90)"><circle r="33.3" class="z"/><circle r="16.65" stroke-width="33.3" class="sb" stroke-dasharray="325 360" pathLength="360"/><circle r="16.65" stroke-width="33.3" class="su" stroke-dasharray="270 360" pathLength="360"/><circle r="16.65" stroke-width="33.3" class="sd" stroke-dasharray="240 360" pathLength="360"/><circle r="16.65" stroke-width="33.3" class="sa" stroke-dasharray="205 360" pathLength="360"/></g>
<g transform="translate(804.7,801) rotate(-90)"><circle r="24.3" class="z"/><circle r="12.15" stroke-width="24.3" class="sb" stroke-dasharray="355 360" pathLength="360"/><circle r="12.15" stroke-width="24.3" class="su" stroke-dasharray="310 360" pathLength="360"/><circle r="12.15" stroke-width="24.3" class="sd" stroke-dasharray="290 360" pathLength="360"/><circle r="12.15" stroke-width="24.3" class="sa" stroke-dasharray="155 360" pathLength="360"/></g>

<!-- RIGHT pies -->
<g transform="translate(1136.7,55) rotate(-90)"><circle r="33.5" class="z"/><circle r="16.75" stroke-width="33.5" class="sb" stroke-dasharray="357 360" pathLength="360"/><circle r="16.75" stroke-width="33.5" class="su" stroke-dasharray="285 360" pathLength="360"/><circle r="16.75" stroke-width="33.5" class="sd" stroke-dasharray="255 360" pathLength="360"/><circle r="16.75" stroke-width="33.5" class="sa" stroke-dasharray="50 360" pathLength="360"/></g>
<g transform="translate(1208,74) rotate(-90)"><circle r="32.5" class="z"/><circle r="16.25" stroke-width="32.5" class="sb" stroke-dasharray="358 360" pathLength="360"/><circle r="16.25" stroke-width="32.5" class="su" stroke-dasharray="290 360" pathLength="360"/><circle r="16.25" stroke-width="32.5" class="sd" stroke-dasharray="260 360" pathLength="360"/><circle r="16.25" stroke-width="32.5" class="sa" stroke-dasharray="60 360" pathLength="360"/></g>
<g transform="translate(1119.3,125) rotate(-90)"><circle r="35.3" class="z"/><circle r="17.65" stroke-width="35.3" class="sb" stroke-dasharray="357 360" pathLength="360"/><circle r="17.65" stroke-width="35.3" class="su" stroke-dasharray="290 360" pathLength="360"/><circle r="17.65" stroke-width="35.3" class="sd" stroke-dasharray="265 360" pathLength="360"/><circle r="17.65" stroke-width="35.3" class="sa" stroke-dasharray="45 360" pathLength="360"/></g>
<g transform="translate(1188,140.7) rotate(-90)"><circle r="32.5" class="z"/><circle r="16.25" stroke-width="32.5" class="sb" stroke-dasharray="357 360" pathLength="360"/><circle r="16.25" stroke-width="32.5" class="su" stroke-dasharray="290 360" pathLength="360"/><circle r="16.25" stroke-width="32.5" class="sd" stroke-dasharray="265 360" pathLength="360"/><circle r="16.25" stroke-width="32.5" class="sa" stroke-dasharray="50 360" pathLength="360"/></g>
<g transform="translate(1051.7,161.7) rotate(-90)"><circle r="35.3" class="z"/><circle r="17.65" stroke-width="35.3" class="sb" stroke-dasharray="357 360" pathLength="360"/><circle r="17.65" stroke-width="35.3" class="su" stroke-dasharray="290 360" pathLength="360"/><circle r="17.65" stroke-width="35.3" class="sd" stroke-dasharray="265 360" pathLength="360"/><circle r="17.65" stroke-width="35.3" class="sa" stroke-dasharray="45 360" pathLength="360"/></g>
<g transform="translate(1141,194) rotate(-90)"><circle r="34.3" class="z"/><circle r="17.15" stroke-width="34.3" class="sb" stroke-dasharray="357 360" pathLength="360"/><circle r="17.15" stroke-width="34.3" class="su" stroke-dasharray="290 360" pathLength="360"/><circle r="17.15" stroke-width="34.3" class="sd" stroke-dasharray="260 360" pathLength="360"/><circle r="17.15" stroke-width="34.3" class="sa" stroke-dasharray="45 360" pathLength="360"/></g>
<g transform="translate(1047.7,229.3) rotate(-90)"><circle r="29.7" class="z"/><circle r="14.85" stroke-width="29.7" class="sb" stroke-dasharray="357 360" pathLength="360"/><circle r="14.85" stroke-width="29.7" class="su" stroke-dasharray="290 360" pathLength="360"/><circle r="14.85" stroke-width="29.7" class="sd" stroke-dasharray="260 360" pathLength="360"/><circle r="14.85" stroke-width="29.7" class="sa" stroke-dasharray="55 360" pathLength="360"/></g>
<g transform="translate(1109,245.7) rotate(-90)"><circle r="24.5" class="z"/><circle r="12.25" stroke-width="24.5" class="sb" stroke-dasharray="357 360" pathLength="360"/><circle r="12.25" stroke-width="24.5" class="su" stroke-dasharray="285 360" pathLength="360"/><circle r="12.25" stroke-width="24.5" class="sd" stroke-dasharray="255 360" pathLength="360"/><circle r="12.25" stroke-width="24.5" class="sa" stroke-dasharray="55 360" pathLength="360"/></g>
<g transform="translate(1185.7,234) rotate(-90)"><circle r="19.8" class="z"/><circle r="9.9" stroke-width="19.8" class="sb" stroke-dasharray="357 360" pathLength="360"/><circle r="9.9" stroke-width="19.8" class="su" stroke-dasharray="315 360" pathLength="360"/><circle r="9.9" stroke-width="19.8" class="sd" stroke-dasharray="295 360" pathLength="360"/><circle r="9.9" stroke-width="19.8" class="sa" stroke-dasharray="90 360" pathLength="360"/></g>
<g transform="translate(1029.3,295) rotate(-90)"><circle r="29.5" class="z"/><circle r="14.75" stroke-width="29.5" class="sb" stroke-dasharray="358 360" pathLength="360"/><circle r="14.75" stroke-width="29.5" class="su" stroke-dasharray="305 360" pathLength="360"/><circle r="14.75" stroke-width="29.5" class="sd" stroke-dasharray="275 360" pathLength="360"/><circle r="14.75" stroke-width="29.5" class="sa" stroke-dasharray="60 360" pathLength="360"/></g>
<g transform="translate(1080.7,304) rotate(-90)"><circle r="20.5" class="z"/><circle r="10.25" stroke-width="20.5" class="sb" stroke-dasharray="357 360" pathLength="360"/><circle r="10.25" stroke-width="20.5" class="su" stroke-dasharray="315 360" pathLength="360"/><circle r="10.25" stroke-width="20.5" class="sd" stroke-dasharray="290 360" pathLength="360"/><circle r="10.25" stroke-width="20.5" class="sa" stroke-dasharray="70 360" pathLength="360"/></g>
<g transform="translate(1130.7,306) rotate(-90)"><circle r="22.8" class="z"/><circle r="11.4" stroke-width="22.8" class="sb" stroke-dasharray="358 360" pathLength="360"/><circle r="11.4" stroke-width="22.8" class="su" stroke-dasharray="300 360" pathLength="360"/><circle r="11.4" stroke-width="22.8" class="sd" stroke-dasharray="275 360" pathLength="360"/><circle r="11.4" stroke-width="22.8" class="sa" stroke-dasharray="50 360" pathLength="360"/></g>
<g transform="translate(1182.3,289.3) rotate(-90)"><circle r="19" class="z"/><circle r="9.5" stroke-width="19" class="sb" stroke-dasharray="357 360" pathLength="360"/><circle r="9.5" stroke-width="19" class="su" stroke-dasharray="315 360" pathLength="360"/><circle r="9.5" stroke-width="19" class="sd" stroke-dasharray="295 360" pathLength="360"/><circle r="9.5" stroke-width="19" class="sa" stroke-dasharray="90 360" pathLength="360"/></g>
<g transform="translate(1020.7,371.7) rotate(-90)"><circle r="19.3" class="z"/><circle r="9.65" stroke-width="19.3" class="sb" stroke-dasharray="357 360" pathLength="360"/><circle r="9.65" stroke-width="19.3" class="su" stroke-dasharray="310 360" pathLength="360"/><circle r="9.65" stroke-width="19.3" class="sd" stroke-dasharray="290 360" pathLength="360"/><circle r="9.65" stroke-width="19.3" class="sa" stroke-dasharray="95 360" pathLength="360"/></g>
<g transform="translate(1087,372.3) rotate(-90)"><circle r="22.3" class="z"/><circle r="11.15" stroke-width="22.3" class="sb" stroke-dasharray="357 360" pathLength="360"/><circle r="11.15" stroke-width="22.3" class="su" stroke-dasharray="305 360" pathLength="360"/><circle r="11.15" stroke-width="22.3" class="sd" stroke-dasharray="285 360" pathLength="360"/><circle r="11.15" stroke-width="22.3" class="sa" stroke-dasharray="55 360" pathLength="360"/></g>
<g transform="translate(1159,375) rotate(-90)"><circle r="20.3" class="z"/><circle r="10.15" stroke-width="20.3" class="sb" stroke-dasharray="357 360" pathLength="360"/><circle r="10.15" stroke-width="20.3" class="su" stroke-dasharray="310 360" pathLength="360"/><circle r="10.15" stroke-width="20.3" class="sd" stroke-dasharray="290 360" pathLength="360"/><circle r="10.15" stroke-width="20.3" class="sa" stroke-dasharray="90 360" pathLength="360"/></g>
<g transform="translate(1008.3,421.7) rotate(-90)"><circle r="22.2" class="z"/><circle r="11.1" stroke-width="22.2" class="sb" stroke-dasharray="357 360" pathLength="360"/><circle r="11.1" stroke-width="22.2" class="su" stroke-dasharray="310 360" pathLength="360"/><circle r="11.1" stroke-width="22.2" class="sd" stroke-dasharray="295 360" pathLength="360"/><circle r="11.1" stroke-width="22.2" class="sa" stroke-dasharray="150 360" pathLength="360"/></g>
<g transform="translate(1078.7,428.3) rotate(-90)"><circle r="23" class="z"/><circle r="11.5" stroke-width="23" class="sb" stroke-dasharray="357 360" pathLength="360"/><circle r="11.5" stroke-width="23" class="su" stroke-dasharray="305 360" pathLength="360"/><circle r="11.5" stroke-width="23" class="sd" stroke-dasharray="285 360" pathLength="360"/><circle r="11.5" stroke-width="23" class="sa" stroke-dasharray="70 360" pathLength="360"/></g>
<g transform="translate(1144.7,429.3) rotate(-90)"><circle r="19.5" class="z"/><circle r="9.75" stroke-width="19.5" class="sb" stroke-dasharray="357 360" pathLength="360"/><circle r="9.75" stroke-width="19.5" class="su" stroke-dasharray="310 360" pathLength="360"/><circle r="9.75" stroke-width="19.5" class="sd" stroke-dasharray="290 360" pathLength="360"/><circle r="9.75" stroke-width="19.5" class="sa" stroke-dasharray="90 360" pathLength="360"/></g>
<g transform="translate(992.7,481.3) rotate(-90)"><circle r="22.8" class="z"/><circle r="11.4" stroke-width="22.8" class="sb" stroke-dasharray="357 360" pathLength="360"/><circle r="11.4" stroke-width="22.8" class="su" stroke-dasharray="315 360" pathLength="360"/><circle r="11.4" stroke-width="22.8" class="sd" stroke-dasharray="295 360" pathLength="360"/><circle r="11.4" stroke-width="22.8" class="sa" stroke-dasharray="120 360" pathLength="360"/></g>
<g transform="translate(1047.3,480) rotate(-90)"><circle r="26.5" class="z"/><circle r="13.25" stroke-width="26.5" class="sb" stroke-dasharray="358 360" pathLength="360"/><circle r="13.25" stroke-width="26.5" class="su" stroke-dasharray="320 360" pathLength="360"/><circle r="13.25" stroke-width="26.5" class="sd" stroke-dasharray="300 360" pathLength="360"/><circle r="13.25" stroke-width="26.5" class="sa" stroke-dasharray="150 360" pathLength="360"/></g>
<g transform="translate(1121.3,484.7) rotate(-90)"><circle r="25.8" class="z"/><circle r="12.9" stroke-width="25.8" class="sb" stroke-dasharray="356 360" pathLength="360"/><circle r="12.9" stroke-width="25.8" class="su" stroke-dasharray="320 360" pathLength="360"/><circle r="12.9" stroke-width="25.8" class="sd" stroke-dasharray="295 360" pathLength="360"/><circle r="12.9" stroke-width="25.8" class="sa" stroke-dasharray="160 360" pathLength="360"/></g>
<g transform="translate(969,538.7) rotate(-90)"><circle r="35.8" class="z"/><circle r="17.9" stroke-width="35.8" class="sb" stroke-dasharray="357 360" pathLength="360"/><circle r="17.9" stroke-width="35.8" class="su" stroke-dasharray="340 360" pathLength="360"/><circle r="17.9" stroke-width="35.8" class="sd" stroke-dasharray="325 360" pathLength="360"/><circle r="17.9" stroke-width="35.8" class="sa" stroke-dasharray="215 360" pathLength="360"/></g>
<g transform="translate(1076,527.3) rotate(-90)"><circle r="27.2" class="z"/><circle r="13.6" stroke-width="27.2" class="sb" stroke-dasharray="357 360" pathLength="360"/><circle r="13.6" stroke-width="27.2" class="su" stroke-dasharray="320 360" pathLength="360"/><circle r="13.6" stroke-width="27.2" class="sd" stroke-dasharray="295 360" pathLength="360"/><circle r="13.6" stroke-width="27.2" class="sa" stroke-dasharray="105 360" pathLength="360"/></g>
<g transform="translate(1124.7,549) rotate(-90)"><circle r="26.3" class="z"/><circle r="13.15" stroke-width="26.3" class="sb" stroke-dasharray="357 360" pathLength="360"/><circle r="13.15" stroke-width="26.3" class="su" stroke-dasharray="320 360" pathLength="360"/><circle r="13.15" stroke-width="26.3" class="sd" stroke-dasharray="300 360" pathLength="360"/><circle r="13.15" stroke-width="26.3" class="sa" stroke-dasharray="145 360" pathLength="360"/></g>
<g transform="translate(1030.7,572.7) rotate(-90)"><circle r="33.8" class="z"/><circle r="16.9" stroke-width="33.8" class="sb" stroke-dasharray="358 360" pathLength="360"/><circle r="16.9" stroke-width="33.8" class="su" stroke-dasharray="335 360" pathLength="360"/><circle r="16.9" stroke-width="33.8" class="sd" stroke-dasharray="320 360" pathLength="360"/><circle r="16.9" stroke-width="33.8" class="sa" stroke-dasharray="180 360" pathLength="360"/></g>
<g transform="translate(1091.3,594.7) rotate(-90)"><circle r="29.3" class="z"/><circle r="14.65" stroke-width="29.3" class="sb" stroke-dasharray="357 360" pathLength="360"/><circle r="14.65" stroke-width="29.3" class="su" stroke-dasharray="320 360" pathLength="360"/><circle r="14.65" stroke-width="29.3" class="sd" stroke-dasharray="295 360" pathLength="360"/><circle r="14.65" stroke-width="29.3" class="sa" stroke-dasharray="120 360" pathLength="360"/></g>
<g transform="translate(961,623.3) rotate(-90)"><circle r="46.5" class="z"/><circle r="23.25" stroke-width="46.5" class="sb" stroke-dasharray="357 360" pathLength="360"/><circle r="23.25" stroke-width="46.5" class="su" stroke-dasharray="345 360" pathLength="360"/><circle r="23.25" stroke-width="46.5" class="sd" stroke-dasharray="335 360" pathLength="360"/><circle r="23.25" stroke-width="46.5" class="sa" stroke-dasharray="245 360" pathLength="360"/></g>
<g transform="translate(1036,660) rotate(-90)"><circle r="36.7" class="z"/><circle r="18.35" stroke-width="36.7" class="sb" stroke-dasharray="357 360" pathLength="360"/><circle r="18.35" stroke-width="36.7" class="su" stroke-dasharray="340 360" pathLength="360"/><circle r="18.35" stroke-width="36.7" class="sd" stroke-dasharray="325 360" pathLength="360"/><circle r="18.35" stroke-width="36.7" class="sa" stroke-dasharray="200 360" pathLength="360"/></g>
<g transform="translate(1100,652.3) rotate(-90)"><circle r="28" class="z"/><circle r="14" stroke-width="28" class="sb" stroke-dasharray="357 360" pathLength="360"/><circle r="14" stroke-width="28" class="su" stroke-dasharray="320 360" pathLength="360"/><circle r="14" stroke-width="28" class="sd" stroke-dasharray="300 360" pathLength="360"/><circle r="14" stroke-width="28" class="sa" stroke-dasharray="130 360" pathLength="360"/></g>
<g transform="translate(980.7,697.3) rotate(-90)"><circle r="23.5" class="z"/><circle r="11.75" stroke-width="23.5" class="sb" stroke-dasharray="357 360" pathLength="360"/><circle r="11.75" stroke-width="23.5" class="su" stroke-dasharray="315 360" pathLength="360"/><circle r="11.75" stroke-width="23.5" class="sd" stroke-dasharray="295 360" pathLength="360"/><circle r="11.75" stroke-width="23.5" class="sa" stroke-dasharray="90 360" pathLength="360"/></g>
<g transform="translate(1089.3,706.7) rotate(-90)"><circle r="22.7" class="z"/><circle r="11.35" stroke-width="22.7" class="sb" stroke-dasharray="357 360" pathLength="360"/><circle r="11.35" stroke-width="22.7" class="su" stroke-dasharray="320 360" pathLength="360"/><circle r="11.35" stroke-width="22.7" class="sd" stroke-dasharray="295 360" pathLength="360"/><circle r="11.35" stroke-width="22.7" class="sa" stroke-dasharray="120 360" pathLength="360"/></g>
<g transform="translate(936,742.7) rotate(-90)"><circle r="25.2" class="z"/><circle r="12.6" stroke-width="25.2" class="sb" stroke-dasharray="357 360" pathLength="360"/><circle r="12.6" stroke-width="25.2" class="su" stroke-dasharray="320 360" pathLength="360"/><circle r="12.6" stroke-width="25.2" class="sd" stroke-dasharray="300 360" pathLength="360"/><circle r="12.6" stroke-width="25.2" class="sa" stroke-dasharray="135 360" pathLength="360"/></g>
<g transform="translate(1054.3,743.3) rotate(-90)"><circle r="25.8" class="z"/><circle r="12.9" stroke-width="25.8" class="sb" stroke-dasharray="357 360" pathLength="360"/><circle r="12.9" stroke-width="25.8" class="su" stroke-dasharray="320 360" pathLength="360"/><circle r="12.9" stroke-width="25.8" class="sd" stroke-dasharray="300 360" pathLength="360"/><circle r="12.9" stroke-width="25.8" class="sa" stroke-dasharray="140 360" pathLength="360"/></g>
<g transform="translate(990.7,779.3) rotate(-90)"><circle r="34.5" class="z"/><circle r="17.25" stroke-width="34.5" class="sb" stroke-dasharray="357 360" pathLength="360"/><circle r="17.25" stroke-width="34.5" class="su" stroke-dasharray="335 360" pathLength="360"/><circle r="17.25" stroke-width="34.5" class="sd" stroke-dasharray="320 360" pathLength="360"/><circle r="17.25" stroke-width="34.5" class="sa" stroke-dasharray="200 360" pathLength="360"/></g>
<g transform="translate(1055.7,801.3) rotate(-90)"><circle r="26.2" class="z"/><circle r="13.1" stroke-width="26.2" class="sb" stroke-dasharray="357 360" pathLength="360"/><circle r="13.1" stroke-width="26.2" class="su" stroke-dasharray="325 360" pathLength="360"/><circle r="13.1" stroke-width="26.2" class="sd" stroke-dasharray="305 360" pathLength="360"/><circle r="13.1" stroke-width="26.2" class="sa" stroke-dasharray="150 360" pathLength="360"/></g>

<!-- evaluation level legend -->
<text x="1207.5" y="527" font-size="20" text-anchor="middle" textLength="95" lengthAdjust="spacingAndGlyphs">Evaluation</text>
<text x="1210.3" y="550" font-size="20" text-anchor="middle" textLength="46" lengthAdjust="spacingAndGlyphs">level:</text>
<text x="1209.5" y="571.7" font-size="20" text-anchor="middle">5</text>
<g fill="none" stroke="#000" stroke-width="1.5">
<circle cx="1209.5" cy="621.7" r="45"/><circle cx="1210" cy="632" r="34.7"/><circle cx="1209.5" cy="650.5" r="16.2"/>
<circle cx="1209.7" cy="803" r="45.3"/><circle cx="1209.7" cy="814.8" r="33.5"/><circle cx="1209.3" cy="829" r="19.2"/>
</g>
<text x="1210" y="596.7" font-size="20" text-anchor="middle">2.5</text>
<text x="1209.5" y="630" font-size="20" text-anchor="middle">1</text>
<text x="1209" y="690.7" font-size="20" text-anchor="middle" textLength="32" lengthAdjust="spacingAndGlyphs">PLI</text>
<text x="1212" y="713.3" font-size="20" text-anchor="middle" textLength="46" lengthAdjust="spacingAndGlyphs">value</text>
<text x="1209" y="754.3" font-size="20" text-anchor="middle">300</text>
<text x="1209.5" y="778.3" font-size="20" text-anchor="middle">200</text>
<text x="1210" y="808.3" font-size="20" text-anchor="middle">120</text>
<text x="1210.5" y="870" font-size="20" text-anchor="middle" textLength="47.5" lengthAdjust="spacingAndGlyphs">PERI</text>
<text x="1212.8" y="892.3" font-size="20" text-anchor="middle" textLength="47.5" lengthAdjust="spacingAndGlyphs">value</text>

<text x="650" y="893" font-size="20" textLength="221.7" lengthAdjust="spacingAndGlyphs">Contamination condition</text>
<text x="933" y="892.7" font-size="20" textLength="129" lengthAdjust="spacingAndGlyphs">Ecological risk</text>
</svg>
</body></html>
